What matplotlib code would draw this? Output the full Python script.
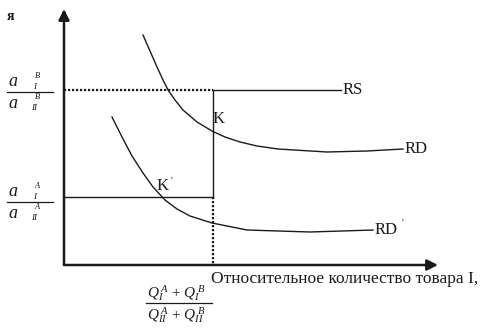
import matplotlib
matplotlib.use("Agg")
import matplotlib.pyplot as plt

plt.rcParams['font.family'] = ['Liberation Serif', 'DejaVu Serif']
plt.rcParams['mathtext.fontset'] = 'custom'
plt.rcParams['mathtext.rm'] = 'Liberation Serif'
plt.rcParams['mathtext.it'] = 'Liberation Serif:italic'

# ---- data (relative quantity, relative price) ----
rd_x = [0.79, 0.86, 0.93, 0.99, 1.04, 1.11, 1.19, 1.33, 1.48, 1.61, 1.76, 1.93, 2.14, 2.63, 3.03, 3.39]
rd_y = [2.30, 2.14, 1.98, 1.85, 1.75, 1.65, 1.55, 1.43, 1.34, 1.28, 1.23, 1.19, 1.16, 1.13, 1.14, 1.16]
rd2_x = [0.48, 0.58, 0.68, 0.79, 0.89, 1.01, 1.13, 1.26, 1.48, 1.83, 2.46, 3.09]
rd2_y = [1.48, 1.28, 1.09, 0.92, 0.78, 0.65, 0.56, 0.49, 0.42, 0.35, 0.33, 0.35]
price_B = 1.75      # a_I^B / a_II^B
price_A = 0.68      # a_I^A / a_II^A
q_eq = 1.49         # equilibrium relative quantity
rs_end = 2.77

W, H = 485, 333
fig = plt.figure(figsize=(W / 100, H / 100), dpi=100)
ax = fig.add_axes([0, 0, 1, 1])
ax.set_xlim(-0.64, (W - 64) / 100)
ax.set_ylim((265 - H) / 100, 2.65)
ax.axis('off')

k = '#1a1a1a'
# axes with arrows
ax.annotate('', xy=(0, 2.56), xytext=(0, 0), arrowprops=dict(arrowstyle='-|>', lw=1.8, color=k, mutation_scale=16, shrinkA=0, shrinkB=0))
ax.annotate('', xy=(3.74, 0), xytext=(0, 0), arrowprops=dict(arrowstyle='-|>', lw=1.8, color=k, mutation_scale=16, shrinkA=0, shrinkB=0))

# RS line: dotted part then solid
ax.plot([0, q_eq], [price_B, price_B], color=k, lw=1.6, ls=(0, (1, 0.8)))
ax.plot([q_eq, rs_end], [price_B, price_B], color=k, lw=1.0)
# vertical line
ax.plot([q_eq, q_eq], [price_B, price_A], color=k, lw=1.0)
ax.plot([q_eq, q_eq], [price_A, 0], color=k, lw=1.6, ls=(0, (1, 0.8)))
# lower horizontal
ax.plot([0, q_eq], [price_A, price_A], color=k, lw=1.0)

# demand curves
ax.plot(rd_x, rd_y, color=k, lw=1.0, solid_joinstyle='round')
ax.plot(rd2_x, rd2_y, color=k, lw=1.0, solid_joinstyle='round')

fs = 12
ax.text(rs_end + 0.02, price_B, 'RS', fontsize=fs, va='center', ha='left', color=k)
ax.text(rd_x[-1] + 0.02, rd_y[-1], 'RD', fontsize=fs, va='center', ha='left', color=k)
ax.text(rd2_x[-1] + 0.02, rd2_y[-1], "RD", fontsize=fs, va='center', ha='left', color=k)
ax.text(rd2_x[-1] + 0.29, rd2_y[-1] + 0.07, "'", fontsize=7, va='center', ha='left', color=k)
ax.text(q_eq + 0.0, 1.46, 'K', fontsize=fs, va='center', ha='left', color=k)
ax.text(0.93, 0.79, 'K', fontsize=fs, va='center', ha='left', color=k)
ax.text(1.07, 0.84, "'", fontsize=7, va='center', ha='left', color=k)

# top-left cut label
fig.text(7 / W, 1 - 16 / H, 'я', fontsize=10, fontweight='bold', va='center', ha='left', color=k)

def px(x, y):
    return x / W, 1 - y / H

def frac_a(yline, sup):
    fig.add_artist(plt.Line2D([7 / W, 53 / W], [1 - yline / H] * 2, color=k, lw=0.9))
    fig.text(*px(8, yline - 10), 'a', fontsize=13, style='italic', va='center', ha='left', color=k)
    fig.text(*px(8, yline + 11), 'a', fontsize=13, style='italic', va='center', ha='left', color=k)
    fig.text(*px(37, yline - 16), sup, fontsize=6, style='italic', va='center', ha='center', color=k)
    fig.text(*px(35, yline - 5), 'I', fontsize=6.5, style='italic', va='center', ha='center', color=k)
    fig.text(*px(37, yline + 5), sup, fontsize=6, style='italic', va='center', ha='center', color=k)
    fig.text(*px(34, yline + 16), 'II', fontsize=6.5, style='italic', va='center', ha='center', color=k)

frac_a(92, 'B')
frac_a(202, 'A')

# bottom label
fig.text(*px(478, 279), 'Относительное количество товара I,',
         fontsize=12.5, va='center', ha='right', color=k)
fig.add_artist(plt.Line2D([146 / W, 212 / W], [1 - 303 / H] * 2, color=k, lw=0.9))
fig.text(*px(147, 293), r'$Q_{I}^{\,A}\,+\,Q_{I}^{\,B}$', fontsize=11, va='center', ha='left', color=k)
fig.text(*px(147, 315), r'$Q_{II}^{\,A}\,+\,Q_{II}^{\,B}$', fontsize=11, va='center', ha='left', color=k)

fig.savefig('out.png', dpi=100, facecolor='white')
